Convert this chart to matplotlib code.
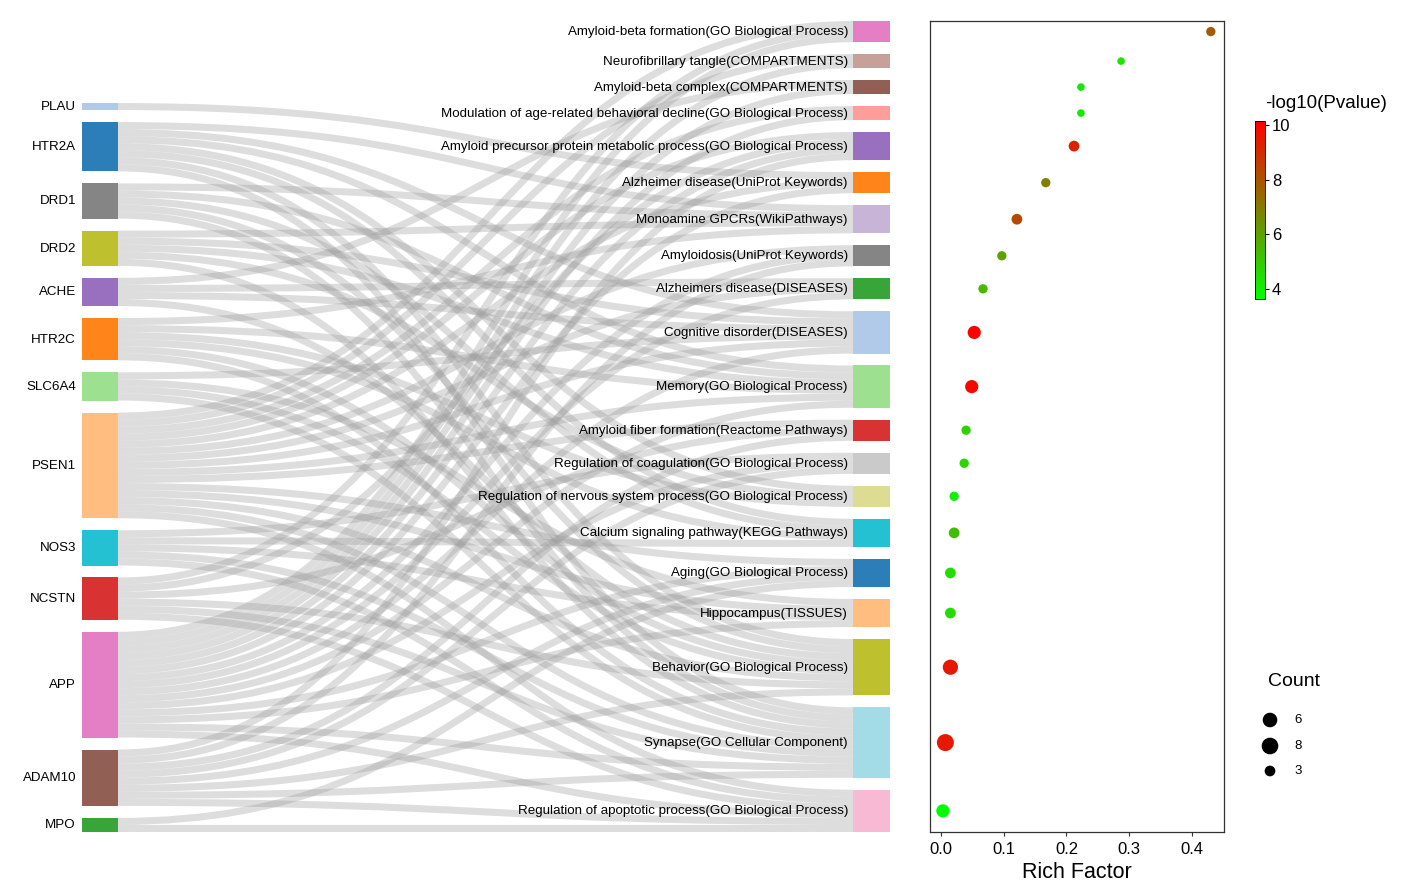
import numpy as np
import matplotlib
matplotlib.use("Agg")
import matplotlib.pyplot as plt
from matplotlib.path import Path
from matplotlib.patches import PathPatch, Rectangle
from matplotlib.colors import LinearSegmentedColormap

plt.rcParams['font.family'] = ['Liberation Sans', 'DejaVu Sans']

# ---- data ----
genes = ['PLAU', 'HTR2A', 'DRD1', 'DRD2', 'ACHE', 'HTR2C', 'SLC6A4',
         'PSEN1', 'NOS3', 'NCSTN', 'APP', 'ADAM10', 'MPO']
gene_colors = ['#aec7e8', '#1f77b4', '#7f7f7f', '#bcbd22', '#9467bd', '#ff7f0e',
               '#98df8a', '#ffbb78', '#17becf', '#d62728', '#e377c2', '#8c564b', '#2ca02c']

terms = [
    'Amyloid-beta formation(GO Biological Process)',
    'Neurofibrillary tangle(COMPARTMENTS)',
    'Amyloid-beta complex(COMPARTMENTS)',
    'Modulation of age-related behavioral decline(GO Biological Process)',
    'Amyloid precursor protein metabolic process(GO Biological Process)',
    'Alzheimer disease(UniProt Keywords)',
    'Monoamine GPCRs(WikiPathways)',
    'Amyloidosis(UniProt Keywords)',
    'Alzheimers disease(DISEASES)',
    'Cognitive disorder(DISEASES)',
    'Memory(GO Biological Process)',
    'Amyloid fiber formation(Reactome Pathways)',
    'Regulation of coagulation(GO Biological Process)',
    'Regulation of nervous system process(GO Biological Process)',
    'Calcium signaling pathway(KEGG Pathways)',
    'Aging(GO Biological Process)',
    'Hippocampus(TISSUES)',
    'Behavior(GO Biological Process)',
    'Synapse(GO Cellular Component)',
    'Regulation of apoptotic process(GO Biological Process)',
]
term_colors = ['#e377c2', '#c49c94', '#8c564b', '#ff9896', '#9467bd', '#ff7f0e',
               '#c5b0d5', '#7f7f7f', '#2ca02c', '#aec7e8', '#98df8a', '#d62728',
               '#c7c7c7', '#dbdb8d', '#17becf', '#1f77b4', '#ffbb78', '#bcbd22',
               '#9edae5', '#f7b6d2']

# gene -> term indices (0-based, order of `terms`)
gene_terms = {
    'PLAU':   [5],
    'HTR2A':  [6, 9, 10, 13, 14, 17, 18],
    'DRD1':   [6, 10, 14, 17, 18],
    'DRD2':   [6, 9, 10, 13, 18],
    'ACHE':   [2, 8, 9, 17],
    'HTR2C':  [6, 10, 13, 14, 17, 18],
    'SLC6A4': [9, 16, 17, 18],
    'PSEN1':  [0, 1, 3, 4, 5, 7, 8, 9, 10, 11, 15, 16, 17, 18, 19],
    'NOS3':   [12, 14, 16, 18, 19],
    'NCSTN':  [0, 4, 11, 17, 18, 19],
    'APP':    [0, 1, 2, 3, 4, 5, 7, 8, 9, 10, 12, 15, 16, 18, 19],
    'ADAM10': [4, 7, 11, 12, 15, 17, 18, 19],
    'MPO':    [15, 19],
}

rich_factor = [0.430, 0.287, 0.223, 0.223, 0.212, 0.167, 0.121, 0.097, 0.067, 0.053,
               0.049, 0.040, 0.037, 0.021, 0.021, 0.015, 0.015, 0.015, 0.007, 0.003]
neg_log_p = [7.8, 4.3, 4.2, 4.2, 9.3, 6.9, 8.3, 6.0, 5.4, 10.1,
             10.0, 4.8, 4.7, 4.0, 5.3, 4.5, 4.5, 9.5, 9.5, 3.7]
legend_counts = [6, 8, 3]

# ---- layout (pixel units of a 1407x891 canvas) ----
W, H = 1407, 891
unit = 7.05
xl0, xl1 = 82, 118      # gene node column
xr0, xr1 = 853, 890     # term node column
y_top_l, y_top_r, y_bot = 103, 21, 832

links = [(g, t) for g in genes for t in gene_terms[g]]
g_val = [len(gene_terms[g]) for g in genes]
t_val = [sum(1 for g, t in links if t == i) for i in range(len(terms))]
total = sum(g_val)
gap_l = (y_bot - y_top_l - total * unit) / (len(genes) - 1)
gap_r = (y_bot - y_top_r - total * unit) / (len(terms) - 1)

g_y = np.concatenate([[0], np.cumsum(np.array(g_val) * unit + gap_l)])[:-1] + y_top_l
t_y = np.concatenate([[0], np.cumsum(np.array(t_val) * unit + gap_r)])[:-1] + y_top_r
t_center = t_y + np.array(t_val) * unit / 2

fig = plt.figure(figsize=(W / 100, H / 100), dpi=100)
ax = fig.add_axes([0, 0, 1, 1])
ax.set_xlim(0, W)
ax.set_ylim(H, 0)
ax.axis('off')

# link slots: at source sorted by target, at target sorted by source
src_off = {}
for gi, g in enumerate(genes):
    for k, t in enumerate(sorted(gene_terms[g])):
        src_off[(g, t)] = g_y[gi] + (k + 0.5) * unit
tgt_off = {}
for ti in range(len(terms)):
    srcs = [g for g in genes if ti in gene_terms[g]]
    for k, g in enumerate(srcs):
        tgt_off[(g, ti)] = t_y[ti] + (k + 0.5) * unit

xm = (xl1 + xr0) / 2
for g, t in links:
    y0, y1 = src_off[(g, t)], tgt_off[(g, t)]
    p = Path([(xl1, y0), (xm, y0), (xm, y1), (xr0, y1)],
             [Path.MOVETO, Path.CURVE4, Path.CURVE4, Path.CURVE4])
    ax.add_patch(PathPatch(p, fill=False, edgecolor='#9a9a9a', alpha=0.33,
                           lw=unit * 0.72, capstyle='butt', zorder=1))

for gi, g in enumerate(genes):
    ax.add_patch(Rectangle((xl0, g_y[gi]), xl1 - xl0, g_val[gi] * unit,
                           color=gene_colors[gi], alpha=0.95, lw=0, zorder=2))
    ax.text(xl0 - 6, g_y[gi] + g_val[gi] * unit / 2 + 0.5, g, ha='right', va='center',
            fontsize=9.6)
for ti, t in enumerate(terms):
    ax.add_patch(Rectangle((xr0, t_y[ti]), xr1 - xr0, t_val[ti] * unit,
                           color=term_colors[ti], alpha=0.95, lw=0, zorder=2))
    ax.text(xr0 - 5, t_center[ti] + 0.5, t, ha='right', va='center', fontsize=9.6,
            zorder=3)

# ---- dot plot ----
cmap = LinearSegmentedColormap.from_list('gr', ['#00ff00', '#808000', '#ff0000'])
vmin, vmax = 3.63, 10.15
axd = fig.add_axes([930 / W, 1 - 832 / H, 294 / W, 811 / H])
sc = axd.scatter(rich_factor, t_center, s=np.array(t_val) * 15, c=neg_log_p,
                 cmap=cmap, vmin=vmin, vmax=vmax, edgecolors='none', zorder=3)
axd.set_ylim(y_bot, y_top_r)
axd.set_xlim(-0.0175, 0.451)
axd.set_yticks([])
axd.set_xticks([0.0, 0.1, 0.2, 0.3, 0.4])
axd.tick_params(axis='x', labelsize=12, length=3, width=0.8, color='#333333', pad=4)
axd.set_xlabel('Rich Factor', fontsize=15.5, labelpad=4)
for s in axd.spines.values():
    s.set_color('#333333')
    s.set_linewidth(0.9)

cax = fig.add_axes([1255 / W, 1 - 299 / H, 10 / W, 178 / H])
cb = fig.colorbar(sc, cax=cax, ticks=[4, 6, 8, 10])
cb.outline.set_linewidth(0.6)
cb.ax.tick_params(labelsize=12, length=3, width=0.8, pad=2)
fig.text(1265 / W, 1 - 103 / H, '-log10(Pvalue)', ha='left', va='center', fontsize=13.5)

# count legend
lax = fig.add_axes([1255 / W, 1 - 790 / H, 80 / W, 90 / H])
lax.set_xlim(0, 80)
lax.set_ylim(90, 0)
lax.axis('off')
leg_y = [20, 46, 71]
lax.scatter([15] * 3, leg_y, s=np.array(legend_counts) * 15, color='black')
for yy, c in zip(leg_y, legend_counts):
    lax.text(39, yy, str(c), ha='left', va='center', fontsize=9.5)
fig.text(1268 / W, 1 - 682 / H, 'Count', ha='left', va='center', fontsize=14)

fig.savefig('out.png', dpi=100)
